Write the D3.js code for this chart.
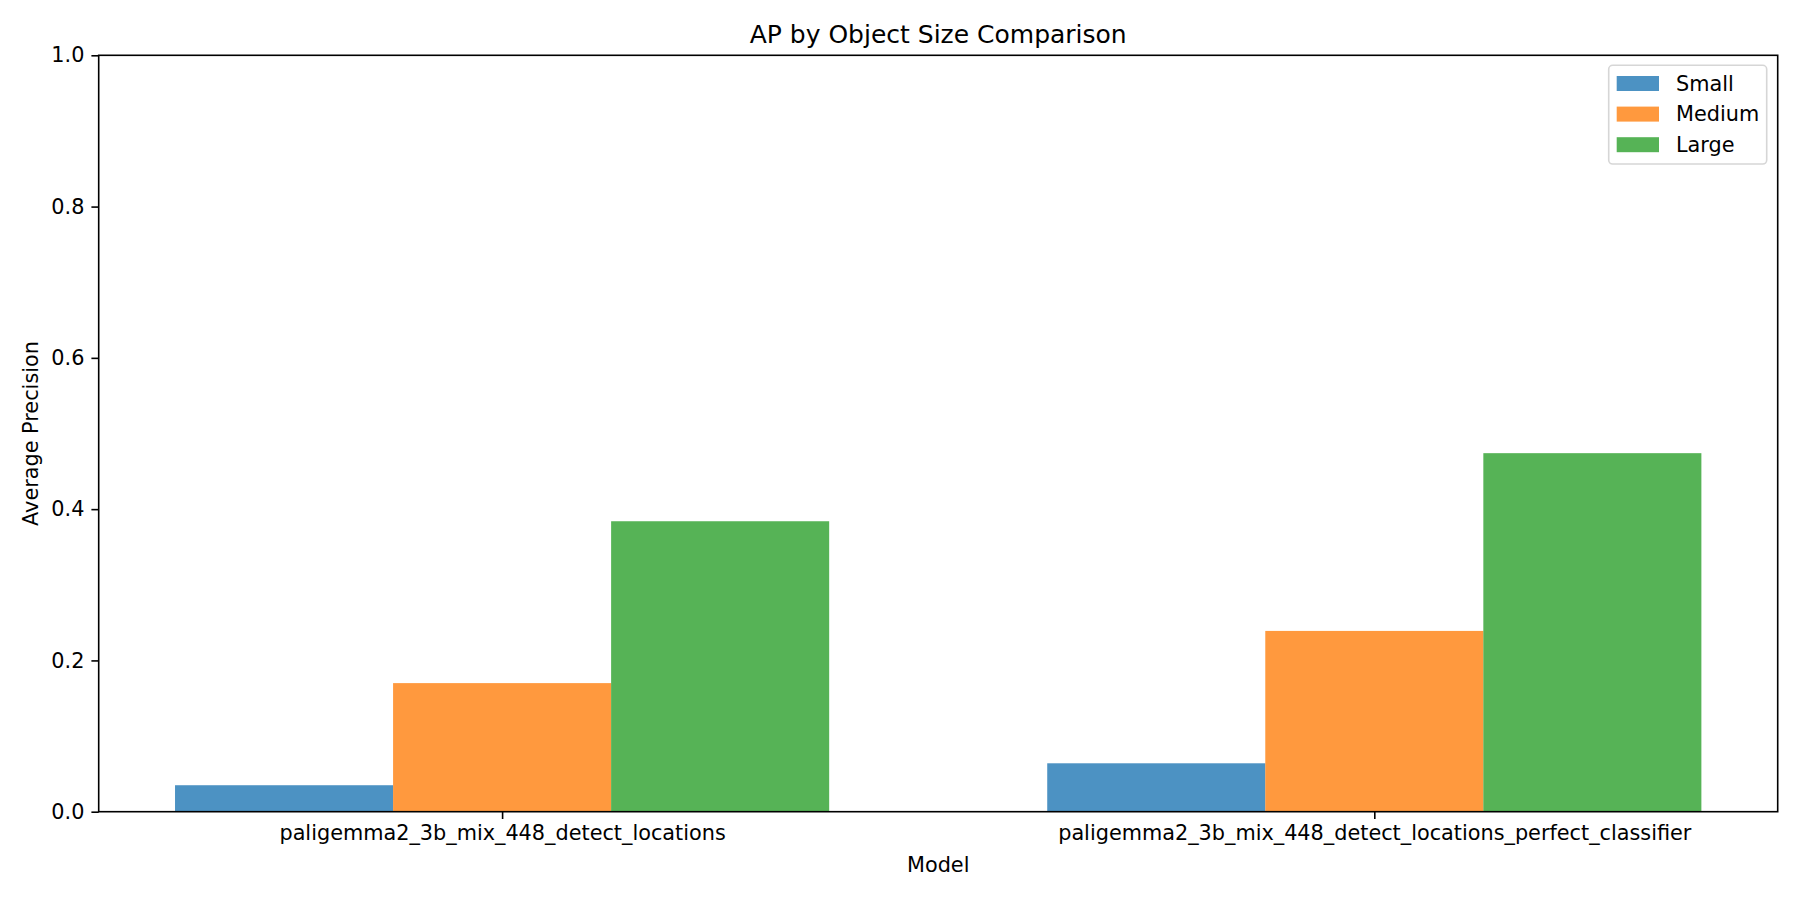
<!DOCTYPE html>
<meta charset="utf-8">
<script src="https://d3js.org/d3.v7.min.js"></script>
<style>
  body { margin: 0; background: #fff; }
  text { font-family: "DejaVu Sans", sans-serif; fill: #000; }
</style>
<body>
<div id="chart"></div>
<script>

// data
var models = ["paligemma2_3b_mix_448_detect_locations", "paligemma2_3b_mix_448_detect_locations_perfect_classifier"]
var sizes = ["Small", "Medium", "Large"]
var smallAP = [0.035, 0.064]
var mediumAP = [0.170, 0.239]
var largeAP = [0.384, 0.474]
var yTicks = [0.0, 0.2, 0.4, 0.6, 0.8, 1.0]
var colors = ["#1f77b4", "#ff7f0e", "#2ca02c"]

var series = [smallAP, mediumAP, largeAP]
var barWidth = 0.25

var width = 1800
var height = 900
// plot area edges (note: "top" is taken by window.top, so use other names)
var plotLeft = 98.7, plotRight = 1777.7, plotTop = 55.3, plotBottom = 811.7

var svg = d3.select("#chart")
  .append("svg")
    .attr("width", width)
    .attr("height", height)

// x is a numeric scale like matplotlib's bar positions
var x = d3.scaleLinear()
  .domain([-0.4625, 1.4625])
  .range([plotLeft, plotRight])

var y = d3.scaleLinear()
  .domain([0, 1])
  .range([plotBottom, plotTop])

// bars
series.forEach(function(vals, j) {
  svg.selectAll(".bar" + j)
    .data(vals)
    .enter()
    .append("rect")
      .attr("x", function(d, i){ return x(i + (j - 1) * barWidth - barWidth / 2) })
      .attr("width", x(barWidth) - x(0))
      .attr("y", function(d){ return y(d) })
      .attr("height", function(d){ return y(0) - y(d) })
      .style("fill", colors[j])
      .style("fill-opacity", 0.8)
})

// axes
var xAxis = svg.append("g")
  .attr("transform", "translate(0," + plotBottom + ")")
  .call(d3.axisBottom(x)
    .tickValues([0, 1])
    .tickFormat(function(d){ return models[d] })
    .tickSize(7.3)
    .tickPadding(6))
xAxis.select(".domain").remove()
xAxis.selectAll("text").style("font-size", "20.8px").style("font-family", "DejaVu Sans")
xAxis.selectAll("line").attr("stroke", "#000").attr("stroke-width", 1.6)

var yAxis = svg.append("g")
  .attr("transform", "translate(" + plotLeft + ",0)")
  .call(d3.axisLeft(y)
    .tickValues(yTicks)
    .tickFormat(d3.format(".1f"))
    .tickSize(7.3)
    .tickPadding(7))
yAxis.select(".domain").remove()
yAxis.selectAll("text").style("font-size", "20.8px").style("font-family", "DejaVu Sans")
yAxis.selectAll("line").attr("stroke", "#000").attr("stroke-width", 1.6)

// frame
svg.append("rect")
  .attr("x", plotLeft)
  .attr("y", plotTop)
  .attr("width", plotRight - plotLeft)
  .attr("height", plotBottom - plotTop)
  .style("fill", "none")
  .style("stroke", "#000")
  .style("stroke-width", 1.6)

// title and axis labels
svg.append("text")
  .attr("x", (plotLeft + plotRight) / 2)
  .attr("y", 42.5)
  .attr("text-anchor", "middle")
  .style("font-size", "25px")
  .text("AP by Object Size Comparison")

svg.append("text")
  .attr("x", (plotLeft + plotRight) / 2)
  .attr("y", 871.5)
  .attr("text-anchor", "middle")
  .style("font-size", "20.8px")
  .text("Model")

svg.append("text")
  .attr("transform", "translate(38," + (plotTop + plotBottom) / 2 + ") rotate(-90)")
  .attr("text-anchor", "middle")
  .style("font-size", "20.8px")
  .text("Average Precision")

// legend
var legend = svg.append("g")
legend.append("rect")
  .attr("x", 1608.7)
  .attr("y", 65.3)
  .attr("width", 158)
  .attr("height", 98.7)
  .attr("rx", 4)
  .style("fill", "#fff")
  .style("fill-opacity", 0.8)
  .style("stroke", "#d6d6d6")
  .style("stroke-width", 1.6)

legend.selectAll(".patch")
  .data(sizes)
  .enter()
  .append("rect")
    .attr("x", 1616.7)
    .attr("y", function(d, i){ return 76 + i * 30.6 })
    .attr("width", 42.3)
    .attr("height", 15)
    .style("fill", function(d, i){ return colors[i] })
    .style("fill-opacity", 0.8)

legend.selectAll(".label")
  .data(sizes)
  .enter()
  .append("text")
    .attr("x", 1676)
    .attr("y", function(d, i){ return 90.7 + i * 30.6 })
    .style("font-size", "20.8px")
    .text(function(d){ return d })

</script>
</body>
